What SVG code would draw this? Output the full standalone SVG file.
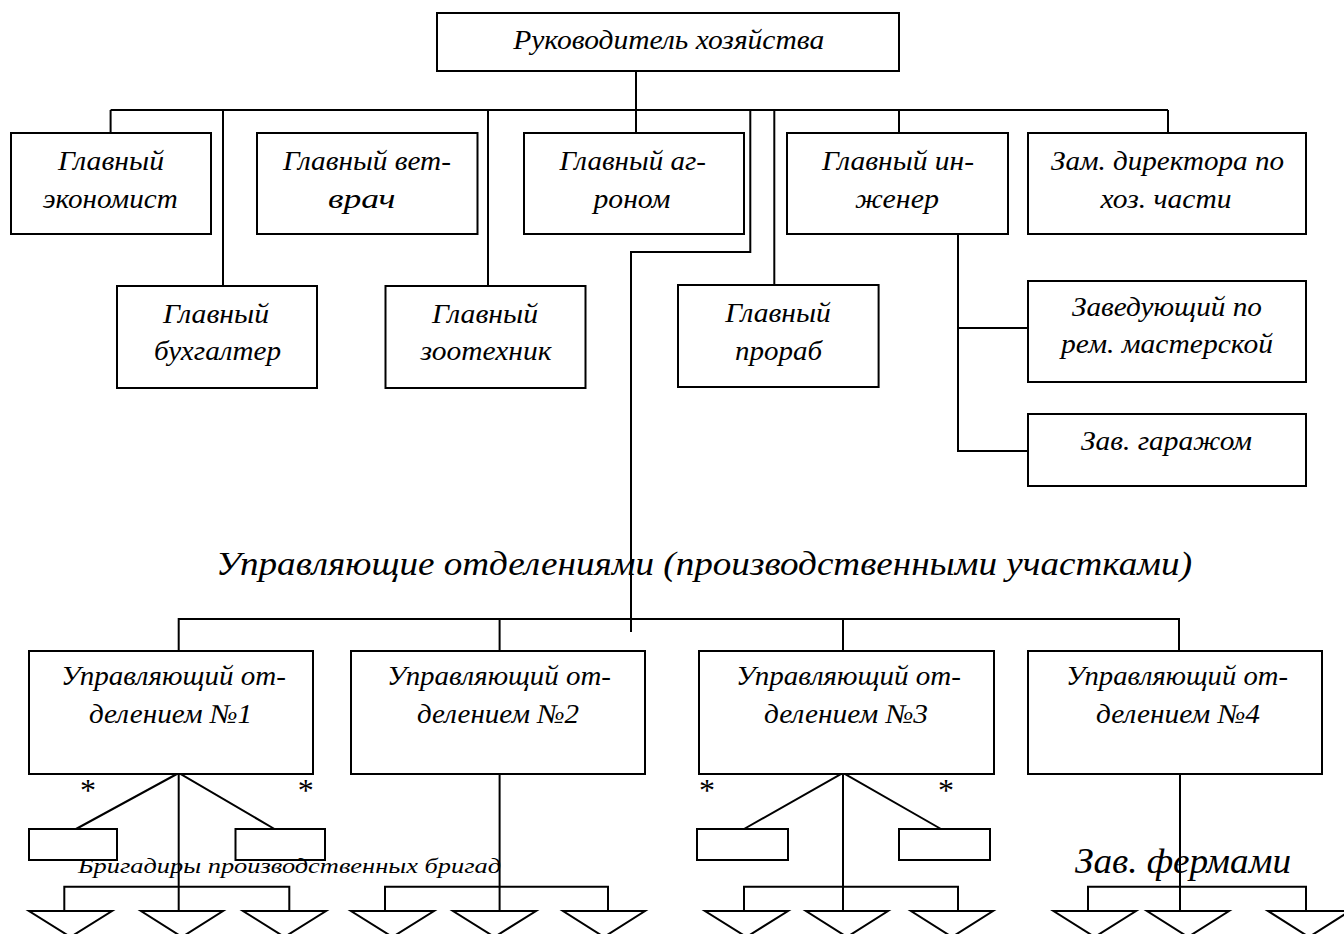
<svg xmlns="http://www.w3.org/2000/svg" width="1344" height="934" viewBox="0 0 1344 934">
  <defs>
    <style>
      .box { fill: #ffffff; stroke: #000000; stroke-width: 2; }
      .ln { fill: none; stroke: #000000; stroke-width: 2; }
      .tri { fill: #ffffff; stroke: #000000; stroke-width: 2; stroke-linejoin: miter; }
      text { font-family: "Liberation Serif", "Times New Roman", serif; font-style: italic; fill: #000000; text-anchor: middle; }
      .t { font-size: 27px; }
      .title { font-size: 34px; }
      .small { font-size: 22px; }
      .farm { font-size: 35px; }
      .star { font-size: 32px; font-style: normal; }
    </style>
  </defs>

  <!-- connectors -->
  <g id="connectors">
    <!-- head to top bus -->
    <path class="ln" d="M636 71 V136"/>
    <path class="ln" d="M110.6 110 H1168"/>
    <path class="ln" d="M110.6 110 V133"/>
    <path class="ln" d="M223 110 V286"/>
    <path class="ln" d="M488 110 V286"/>
    <path class="ln" d="M750.3 110 V252 H631 V632"/>
    <path class="ln" d="M774.3 110 V285"/>
    <path class="ln" d="M899 110 V133"/>
    <path class="ln" d="M1168 110 V133"/>
    <!-- chief engineer branch -->
    <path class="ln" d="M958 234 V451 H1028"/>
    <path class="ln" d="M958 328 H1028"/>
    <!-- division managers bus -->
    <path class="ln" d="M178.7 651 V619 H1179 V651"/>
    <path class="ln" d="M499.6 619 V651"/>
    <path class="ln" d="M843 619 V651"/>
    <!-- division 1 -->
    <path class="ln" d="M76 829 L178.7 773 L274.5 829"/>
    <path class="ln" d="M178.7 773 V911"/>
    <path class="ln" d="M64.3 911 V886.7 H289.3 V911"/>
    <!-- division 2 -->
    <path class="ln" d="M499.6 774 V911"/>
    <path class="ln" d="M385 911 V886.7 H608 V911"/>
    <!-- division 3 -->
    <path class="ln" d="M744 829 L843 773 L941 829"/>
    <path class="ln" d="M843 773 V911"/>
    <path class="ln" d="M744 911 V886.7 H958 V911"/>
    <!-- division 4 -->
    <path class="ln" d="M1180 774 V911"/>
    <path class="ln" d="M1088 911 V886.7 H1306 V911"/>
  </g>

  <!-- top level -->
  <g id="head">
    <rect class="box" x="437" y="13" width="462" height="58"/>
    <text class="t" x="668.7" y="49" textLength="311" lengthAdjust="spacingAndGlyphs">Руководитель хозяйства</text>
  </g>

  <!-- first row -->
  <g id="economist">
    <rect class="box" x="11" y="133" width="200" height="101"/>
    <text class="t" x="111" y="169.5" textLength="106" lengthAdjust="spacingAndGlyphs">Главный</text>
    <text class="t" x="110.2" y="207.5" textLength="135" lengthAdjust="spacingAndGlyphs">экономист</text>
  </g>
  <g id="vet">
    <rect class="box" x="257" y="133" width="220.5" height="101"/>
    <text class="t" x="366.9" y="169.5" textLength="168" lengthAdjust="spacingAndGlyphs">Главный вет-</text>
    <text class="t" x="361.8" y="207.5" textLength="67.5" lengthAdjust="spacingAndGlyphs">врач</text>
  </g>
  <g id="agronomist">
    <rect class="box" x="524" y="133" width="220" height="101"/>
    <text class="t" x="632.7" y="169.5" textLength="146.6" lengthAdjust="spacingAndGlyphs">Главный аг-</text>
    <text class="t" x="632" y="207.5" textLength="77" lengthAdjust="spacingAndGlyphs">роном</text>
  </g>
  <g id="engineer">
    <rect class="box" x="787" y="133" width="221" height="101"/>
    <text class="t" x="898" y="169.5" textLength="152" lengthAdjust="spacingAndGlyphs">Главный ин-</text>
    <text class="t" x="897" y="207.5" textLength="84" lengthAdjust="spacingAndGlyphs">женер</text>
  </g>
  <g id="deputy">
    <rect class="box" x="1028" y="133" width="278" height="101"/>
    <text class="t" x="1167.5" y="169.5" textLength="233" lengthAdjust="spacingAndGlyphs">Зам. директора по</text>
    <text class="t" x="1166" y="207.5" textLength="131" lengthAdjust="spacingAndGlyphs">хоз. части</text>
  </g>

  <!-- second row -->
  <g id="accountant">
    <rect class="box" x="117" y="286" width="200" height="102"/>
    <text class="t" x="216" y="323" textLength="106" lengthAdjust="spacingAndGlyphs">Главный</text>
    <text class="t" x="217.5" y="360" textLength="127" lengthAdjust="spacingAndGlyphs">бухгалтер</text>
  </g>
  <g id="zootechnician">
    <rect class="box" x="385.5" y="286" width="200" height="102"/>
    <text class="t" x="485" y="323" textLength="106" lengthAdjust="spacingAndGlyphs">Главный</text>
    <text class="t" x="486" y="360" textLength="131" lengthAdjust="spacingAndGlyphs">зоотехник</text>
  </g>
  <g id="foreman">
    <rect class="box" x="678" y="285" width="200.6" height="102"/>
    <text class="t" x="778" y="321.5" textLength="105.6" lengthAdjust="spacingAndGlyphs">Главный</text>
    <text class="t" x="778.5" y="360" textLength="87" lengthAdjust="spacingAndGlyphs">прораб</text>
  </g>
  <g id="workshop">
    <rect class="box" x="1028" y="281" width="278" height="101"/>
    <text class="t" x="1167" y="316" textLength="190" lengthAdjust="spacingAndGlyphs">Заведующий по</text>
    <text class="t" x="1167" y="353" textLength="212" lengthAdjust="spacingAndGlyphs">рем. мастерской</text>
  </g>
  <g id="garage">
    <rect class="box" x="1028" y="414" width="278" height="72"/>
    <text class="t" x="1166.5" y="450" textLength="171" lengthAdjust="spacingAndGlyphs">Зав. гаражом</text>
  </g>

  <g id="divisions-title">
    <text class="title" x="704" y="575" textLength="976" lengthAdjust="spacingAndGlyphs">Управляющие отделениями (производственными участками)</text>
  </g>

  <!-- division managers -->
  <g id="division1">
    <rect class="box" x="29" y="651" width="284" height="123"/>
    <text class="t" x="173.4" y="685" textLength="225" lengthAdjust="spacingAndGlyphs">Управляющий от-</text>
    <text class="t" x="170.5" y="723" textLength="163" lengthAdjust="spacingAndGlyphs">делением №1</text>
  </g>
  <g id="division2">
    <rect class="box" x="351" y="651" width="294" height="123"/>
    <text class="t" x="499" y="685" textLength="224" lengthAdjust="spacingAndGlyphs">Управляющий от-</text>
    <text class="t" x="498" y="723" textLength="162" lengthAdjust="spacingAndGlyphs">делением №2</text>
  </g>
  <g id="division3">
    <rect class="box" x="699" y="651" width="295" height="123"/>
    <text class="t" x="848.5" y="685" textLength="225" lengthAdjust="spacingAndGlyphs">Управляющий от-</text>
    <text class="t" x="846" y="723" textLength="164" lengthAdjust="spacingAndGlyphs">делением №3</text>
  </g>
  <g id="division4">
    <rect class="box" x="1028" y="651" width="294" height="123"/>
    <text class="t" x="1177" y="685" textLength="222" lengthAdjust="spacingAndGlyphs">Управляющий от-</text>
    <text class="t" x="1178" y="723" textLength="164" lengthAdjust="spacingAndGlyphs">делением №4</text>
  </g>

  <!-- auxiliary units under divisions 1 and 3 -->
  <g id="aux1a"><rect class="box" x="29" y="829" width="88" height="31"/></g>
  <g id="aux1b"><rect class="box" x="235.5" y="829" width="89.5" height="31"/></g>
  <g id="aux3a"><rect class="box" x="697" y="829" width="91" height="31"/></g>
  <g id="aux3b"><rect class="box" x="899" y="829" width="91" height="31"/></g>

  <g id="stars">
    <text class="star" x="88" y="801">*</text>
    <text class="star" x="305.7" y="801">*</text>
    <text class="star" x="707" y="801">*</text>
    <text class="star" x="946" y="801">*</text>
  </g>

  <g id="labels-bottom">
    <text class="small" x="289.5" y="873" textLength="423" lengthAdjust="spacingAndGlyphs">Бригадиры производственных бригад</text>
    <text class="farm" x="1183" y="873" textLength="216" lengthAdjust="spacingAndGlyphs">Зав. фермами</text>
  </g>

  <!-- brigades and farms -->
  <g id="units">
    <polygon class="tri" points="29,911 112,911 70.5,937"/>
    <polygon class="tri" points="141,911 223,911 182,937"/>
    <polygon class="tri" points="243,911 326,911 284.5,937"/>
    <polygon class="tri" points="351,911 434,911 392.5,937"/>
    <polygon class="tri" points="453,911 536,911 494.5,937"/>
    <polygon class="tri" points="563,911 645,911 604,937"/>
    <polygon class="tri" points="705,911 788,911 746.5,937"/>
    <polygon class="tri" points="806,911 888,911 847,937"/>
    <polygon class="tri" points="911,911 993,911 952,937"/>
    <polygon class="tri" points="1053.5,911 1136,911 1094.7,937"/>
    <polygon class="tri" points="1147,911 1229,911 1188,937"/>
    <polygon class="tri" points="1268,911 1350,911 1309,937"/>
  </g>
</svg>
